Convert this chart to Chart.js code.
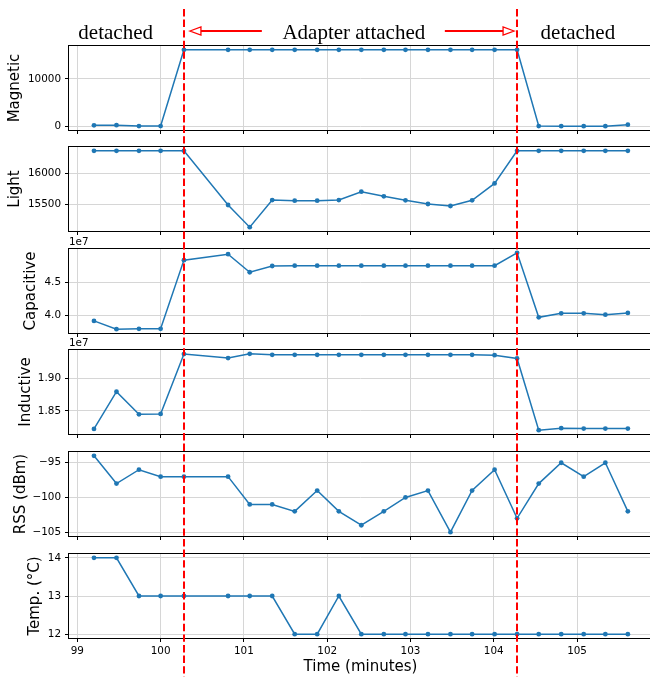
<!DOCTYPE html>
<html>
<head>
<meta charset="utf-8">
<script src="https://cdn.jsdelivr.net/npm/chart.js@4.4.1/dist/chart.umd.min.js"></script>
<style>
html, body { margin: 0; padding: 0; background: #fff; overflow: hidden; }
#wrap { position: relative; width: 650px; height: 677px; overflow: hidden; }
#wrap canvas { position: absolute; left: 0; }
</style>
</head>
<body>
<div id="wrap"></div>
<script>
// sample times (minutes)
const times = [99.2, 99.47, 99.74, 100.0, 100.28, 100.81, 101.07, 101.34, 101.61, 101.88, 102.14, 102.41,
               102.68, 102.94, 103.21, 103.48, 103.74, 104.01, 104.28, 104.54, 104.81, 105.08, 105.34, 105.61];

// sensor readings, one value per sample time
const magnetic = [150, 180, 0, 0, 16200, 16200, 16200, 16200, 16200, 16200, 16200, 16200,
                  16200, 16200, 16200, 16200, 16200, 16200, 16200, 0, -30, -30, -30, 300];
const light = [16380, 16380, 16380, 16380, 16380, 15484, 15117, 15566, 15556, 15556, 15566, 15704,
               15627, 15561, 15500, 15467, 15561, 15840, 16380, 16380, 16380, 16380, 16380, 16380];
const capacitive = [39160000, 37900000, 37950000, 37950000, 48380000, 49280000, 46540000, 47490000,
                    47540000, 47540000, 47540000, 47540000, 47540000, 47540000, 47540000, 47540000,
                    47540000, 47540000, 49490000, 39700000, 40300000, 40300000, 40100000, 40360000];
const inductive = [18227000, 18792000, 18449000, 18455000, 19364000, 19303000, 19368000, 19353000,
                   19353000, 19353000, 19352000, 19352000, 19352000, 19353000, 19353000, 19353000,
                   19353000, 19348000, 19297000, 18208000, 18238000, 18233000, 18233000, 18233000];
const rss = [-94, -98, -96, -97, -97, -97, -101, -101, -102, -99, -102, -104,
             -102, -100, -99, -105, -99, -96, -103, -98, -95, -97, -95, -102];
const temperature = [14, 14, 13, 13, 13, 13, 13, 13, 12, 12, 13, 12,
                     12, 12, 12, 12, 12, 12, 12, 12, 12, 12, 12, 12];

// tick labels
const timeTicks = [99, 100, 101, 102, 103, 104, 105];
const magneticTicks = [0, 10000];
const lightTicks = [15500, 16000];
const capacitiveTicks = [40000000, 45000000];
const inductiveTicks = [18500000, 19000000];
const rssTicks = [-105, -100, -95];
const temperatureTicks = [12, 13, 14];

// when the adapter was attached / detached
const attachTimes = [100.28, 104.28];
const headerTexts = ['detached', 'Adapter attached', 'detached'];

const panels = [
  { label: 'Magnetic',     values: magnetic,    ticks: magneticTicks,    fmt: v => String(v), labelX: 14.7 },
  { label: 'Light',        values: light,       ticks: lightTicks,       fmt: v => String(v), labelX: 14.7 },
  { label: 'Capacitive',   values: capacitive,  ticks: capacitiveTicks,  fmt: v => (v / 1e7).toFixed(1), labelX: 30.7, offset: '1e7' },
  { label: 'Inductive',    values: inductive,   ticks: inductiveTicks,   fmt: v => (v / 1e7).toFixed(2), labelX: 26.4, offset: '1e7' },
  { label: 'RSS (dBm)',    values: rss,         ticks: rssTicks,         fmt: v => v < 0 ? '\u2212' + Math.abs(v) : String(v), labelX: 21.4 },
  { label: 'Temp. (\u00b0C)', values: temperature, ticks: temperatureTicks, fmt: v => String(v), labelX: 35.0 }
];

// layout of the stacked axes
const H = 677, canvasW = 660;
const plotLeft = 69, plotRight = 652;
const panelTop = [46, 147, 249, 350, 452, 554];
const panelH = 84;
const redTop = 9;
const blue = '#1f77b4';

function limits(arr) {
  const lo = Math.min(...arr), hi = Math.max(...arr), m = (hi - lo) * 0.05;
  return [lo - m, hi + m];
}

function drawArrow(ctx, x0, x1, y) {
  const dir = Math.sign(x1 - x0), len = 11, hw = 4;
  const base = x1 - dir * len;
  ctx.setLineDash([]);
  ctx.strokeStyle = 'red';
  ctx.lineWidth = 2;
  ctx.beginPath(); ctx.moveTo(x0, y); ctx.lineTo(base, y); ctx.stroke();
  ctx.lineWidth = 1.3;
  ctx.fillStyle = '#fff';
  ctx.beginPath(); ctx.moveTo(x1, y); ctx.lineTo(base, y - hw); ctx.lineTo(base, y + hw); ctx.closePath();
  ctx.fill(); ctx.stroke();
}

const overlay = {
  id: 'overlay',
  afterDraw(chart, args, opts) {
    const { ctx, chartArea: a } = chart;
    const x = chart.scales.x;
    ctx.save();
    // frame
    ctx.strokeStyle = '#000';
    ctx.lineWidth = 1;
    ctx.strokeRect(Math.round(a.left) - 0.5, Math.round(a.top) - 0.5,
                   Math.round(a.right - a.left) + 1, Math.round(a.bottom - a.top) + 1);
    // 1e7 offset text
    if (opts.offset) {
      ctx.font = '10.4px "DejaVu Sans"';
      ctx.fillStyle = '#000';
      ctx.textAlign = 'left';
      ctx.textBaseline = 'alphabetic';
      ctx.fillText(opts.offset, a.left, a.top - 4);
    }
    // header over the first panel
    if (opts.header) {
      const pos = [x.getPixelForValue(99.46), x.getPixelForValue(102.32), x.getPixelForValue(105.01)];
      ctx.font = '21px "Liberation Serif"';
      ctx.fillStyle = '#000';
      ctx.textAlign = 'center';
      ctx.textBaseline = 'alphabetic';
      headerTexts.forEach((t, i) => ctx.fillText(t, pos[i], 39));
      const l1 = x.getPixelForValue(attachTimes[0]), l2 = x.getPixelForValue(attachTimes[1]);
      drawArrow(ctx, pos[1] - 92, l1 + 6, 31);
      drawArrow(ctx, pos[1] + 91, l2 - 3, 31);
    }
    // dashed attach / detach lines
    ctx.strokeStyle = 'red';
    ctx.lineWidth = 2;
    ctx.setLineDash([7.4, 3.2]);
    attachTimes.forEach(t => {
      const px = Math.round(x.getPixelForValue(t));
      ctx.beginPath();
      ctx.moveTo(px, opts.lineTop);
      ctx.lineTo(px, chart.height);
      ctx.stroke();
    });
    ctx.restore();
  }
};

const wrap = document.getElementById('wrap');

panels.forEach((p, i) => {
  const bottom = panelTop[i] + panelH;
  const last = i === panels.length - 1;
  const cTop = i === 0 ? 0 : panelTop[i - 1] + panelH + 4;
  const cBot = last ? H : bottom + 4;

  const canvas = document.createElement('canvas');
  canvas.width = canvasW;
  canvas.height = cBot - cTop;
  canvas.style.top = cTop + 'px';
  wrap.appendChild(canvas);

  const [ymin, ymax] = limits(p.values);

  new Chart(canvas.getContext('2d'), {
    type: 'line',
    data: {
      datasets: [{
        data: times.map((t, k) => ({ x: t, y: p.values[k] })),
        borderColor: blue,
        backgroundColor: blue,
        borderWidth: 1.5,
        pointRadius: 2.4,
        pointBorderWidth: 0,
        pointBackgroundColor: blue,
        tension: 0,
        fill: false
      }]
    },
    options: {
      responsive: false,
      animation: false,
      events: [],
      layout: { padding: { top: panelTop[i] - cTop, left: 0, right: canvasW - plotRight, bottom: 0 } },
      plugins: {
        legend: { display: false },
        tooltip: { enabled: false },
        overlay: { offset: p.offset, header: i === 0, lineTop: redTop - cTop }
      },
      scales: {
        x: {
          type: 'linear',
          min: 98.9,
          max: 105.9,
          afterBuildTicks: s => { s.ticks = timeTicks.map(v => ({ value: v })); },
          afterFit: s => {
            s.height = cBot - bottom;
            s.paddingLeft = s.paddingRight = s.paddingTop = s.paddingBottom = 0;
          },
          grid: { color: '#d6d6d6', lineWidth: 1, tickColor: '#000', tickLength: 4, tickWidth: 1 },
          border: { display: false },
          ticks: {
            display: last,
            maxRotation: 0,
            minRotation: 0,
            padding: 3,
            color: '#000',
            font: { family: 'DejaVu Sans', size: 10.4 },
            callback: v => String(v)
          },
          title: {
            display: last,
            text: 'Time (minutes)',
            color: '#000',
            font: { family: 'DejaVu Sans', size: 15 },
            padding: { top: 0, bottom: 1 }
          }
        },
        y: {
          type: 'linear',
          min: ymin,
          max: ymax,
          afterBuildTicks: s => { s.ticks = p.ticks.map(v => ({ value: v })); },
          afterFit: s => {
            s.width = plotLeft;
            s.paddingLeft = s.paddingRight = s.paddingTop = s.paddingBottom = 0;
          },
          grid: { color: '#d6d6d6', lineWidth: 1, tickColor: '#000', tickLength: 4, tickWidth: 1 },
          border: { display: false },
          ticks: {
            padding: 4,
            color: '#000',
            font: { family: 'DejaVu Sans', size: 10.4 },
            callback: v => p.fmt(v)
          },
          title: {
            display: true,
            text: p.label,
            color: '#000',
            font: { family: 'DejaVu Sans', size: 15 },
            padding: { top: p.labelX - 9, bottom: 0 }
          }
        }
      }
    },
    plugins: [overlay]
  });
});
</script>
</body>
</html>
